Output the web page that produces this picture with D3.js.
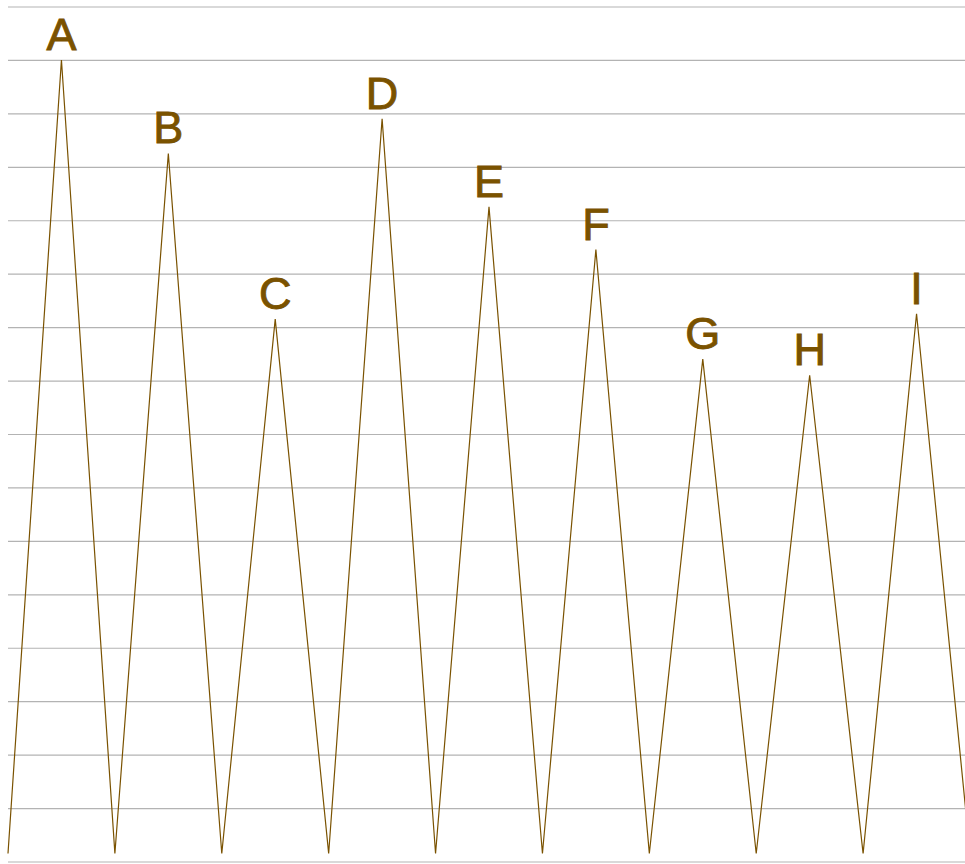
<html>
<head>
<style>
  body { margin: 0; background: #fff; }
  .grid line { stroke: #b3b3b3; stroke-width: 1.2; }
  .grid path { display: none; }
  .grid text { display: none; }
</style>
</head>
<body>
<svg id="svg" width="965" height="864"></svg>
<script src="https://d3js.org/d3.v7.min.js"></script>
<script>

// peaks
var names  = ["A", "B", "C", "D", "E", "F", "G", "H", "I"];
var values = [150, 132.5, 101.5, 139, 122.5, 114.5, 94, 91, 102.5];
var base   = 1.5;   // the valleys sit a little above the bottom gridline
var ticks  = d3.range(0, 161, 10);

// zigzag: valley, peak, valley, peak ... valley
var pts = [{v: base}];
names.forEach((n, i) => { pts.push({v: values[i], name: n}); pts.push({v: base}); });

var svg = d3.select("#svg");
var x = d3.scaleLinear().domain([0, pts.length - 1]).range([8, 970]);
var y = d3.scaleLinear().domain([0, 160]).range([861.5, 6.5]);

svg.append("g").classed("grid", true)
  .attr("transform", "translate(8,0)")
  .call(d3.axisRight(y).tickValues(ticks).tickSize(1000));

svg.append("path")
  .datum(pts)
  .attr("fill", "none")
  .attr("stroke", "#7a5200")
  .attr("stroke-width", 1.2)
  .attr("d", d3.line().x((d, i) => x(i)).y(d => y(d.v)));

svg.selectAll("text.lbl").data(pts.map((d, i) => ({...d, i})).filter(d => d.name))
  .join("text").classed("lbl", true)
  .attr("x", d => x(d.i))
  .attr("y", d => y(d.v) - 10)
  .attr("text-anchor", "middle")
  .style("font-family", "'Liberation Sans', Arial, sans-serif")
  .style("font-size", "45px")
  .style("fill", "#7a5200")
  .style("stroke", "#7a5200")
  .style("stroke-width", "0.9px")
  .text(d => d.name);

</script>
</body>
</html>
